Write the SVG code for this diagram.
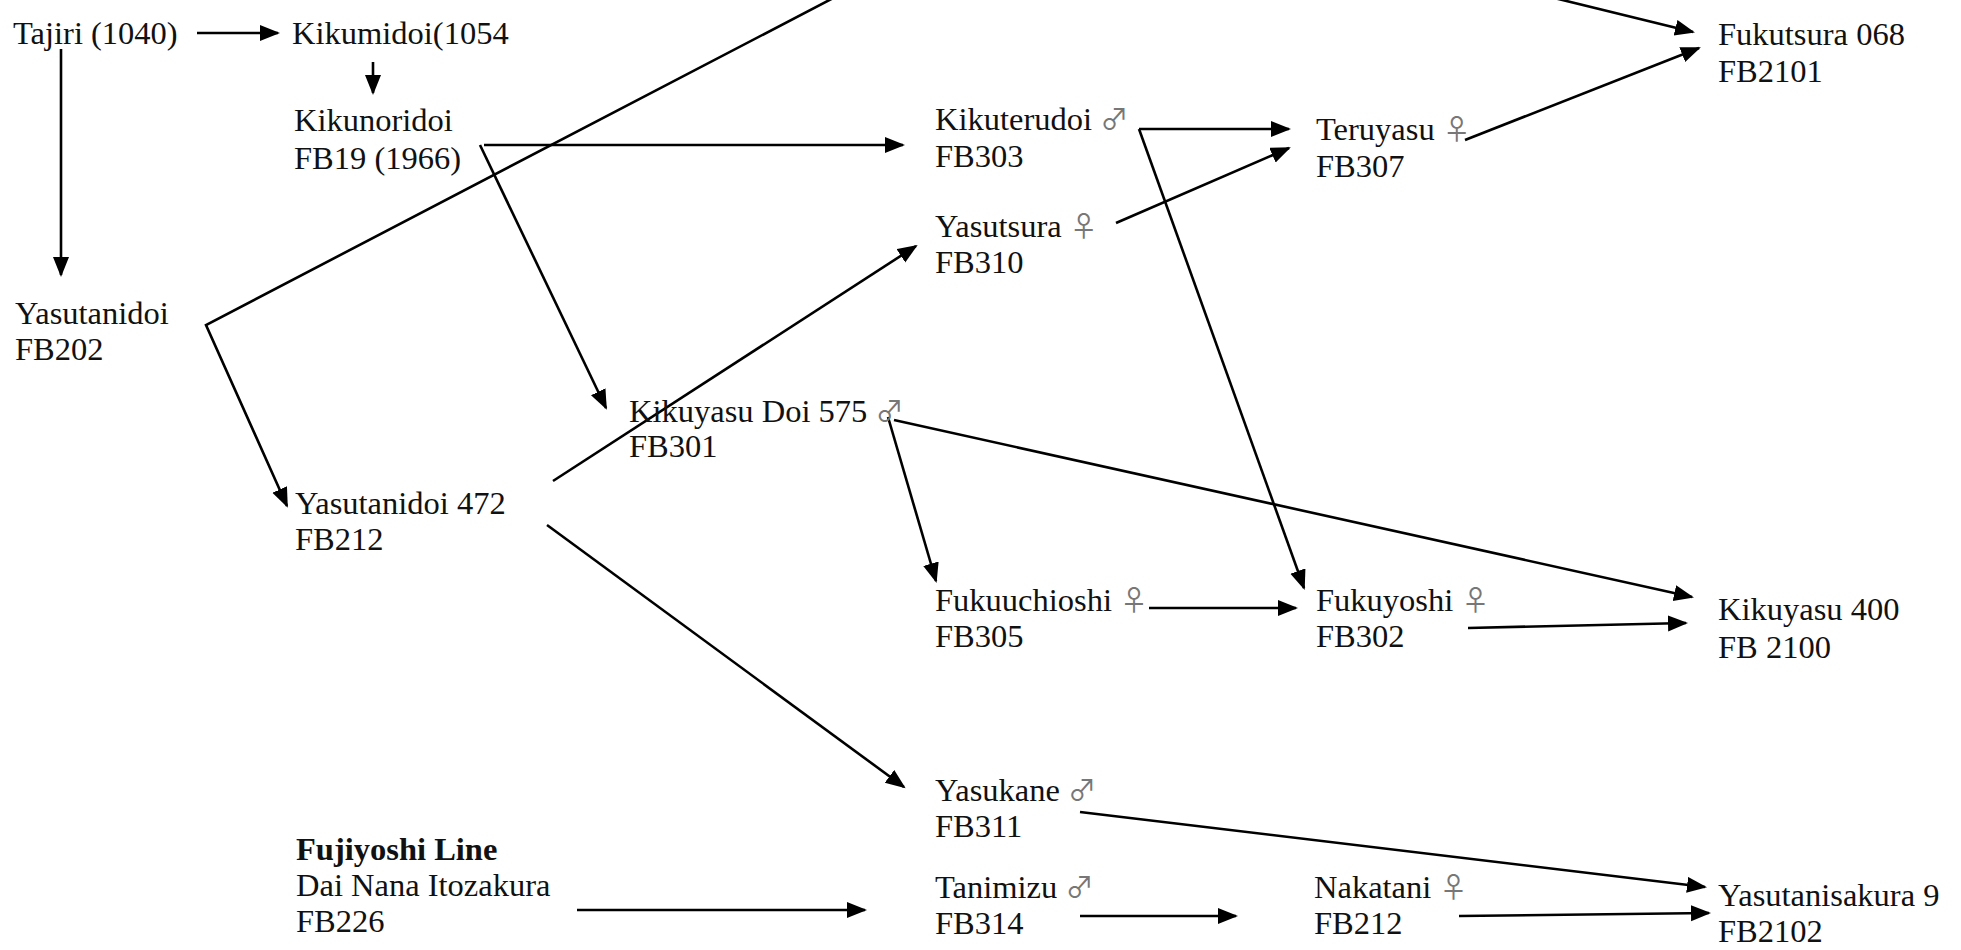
<svg xmlns="http://www.w3.org/2000/svg" width="1961" height="950" viewBox="0 0 1961 950">
<style>
text{font-family:"Liberation Serif","Times New Roman",serif;font-size:32.5px;fill:#111}
.b{font-weight:bold}
.sym{fill:#777;font-family:"Noto Sans CJK JP","DejaVu Sans",sans-serif;font-size:28px}
.c line,.c polyline{stroke:#000;stroke-width:2.6;fill:none;marker-end:url(#ah)}
</style>
<defs>
<marker id="ah" markerUnits="userSpaceOnUse" markerWidth="22" markerHeight="18" refX="18" refY="8" orient="auto">
<path d="M0,0 L20,8 L0,16 z" fill="#000"/>
</marker>
</defs>
<rect width="1961" height="950" fill="#fff"/>
<g class="c" id="connectors">
<line x1="197" y1="33" x2="278" y2="33"/>
<line x1="373" y1="62" x2="373" y2="93"/>
<line x1="61" y1="49" x2="61" y2="275"/>
<polyline points="841,-6 206,325 287,506"/>
<line x1="1542" y1="-5" x2="1693" y2="32"/>
<line x1="484" y1="145" x2="903" y2="145"/>
<line x1="480" y1="145" x2="606" y2="408"/>
<line x1="1139" y1="129" x2="1289" y2="129"/>
<line x1="1139" y1="129" x2="1304" y2="588"/>
<line x1="1116" y1="223" x2="1289" y2="148"/>
<line x1="1465" y1="140" x2="1699" y2="48"/>
<line x1="553" y1="481" x2="916" y2="246"/>
<line x1="547" y1="525" x2="904" y2="787"/>
<line x1="888" y1="417" x2="936" y2="581"/>
<line x1="894" y1="420" x2="1692" y2="597"/>
<line x1="1149" y1="608" x2="1296" y2="608"/>
<line x1="1468" y1="628" x2="1686" y2="623"/>
<line x1="1080" y1="812" x2="1705" y2="887"/>
<line x1="577" y1="910" x2="865" y2="910"/>
<line x1="1080" y1="916" x2="1236" y2="916"/>
<line x1="1459" y1="916" x2="1709" y2="913"/>
</g>
<g id="n-tajiri"><text x="13" y="44">Tajiri (1040)</text></g>
<g id="n-kikumidoi"><text x="292" y="44">Kikumidoi(1054</text></g>
<g id="n-kikunoridoi"><text x="294" y="131">Kikunoridoi</text><text x="294" y="169">FB19 (1966)</text></g>
<g id="n-yasutanidoi"><text x="15" y="324">Yasutanidoi</text><text x="15" y="360">FB202</text></g>
<g id="n-kikuterudoi"><text x="935" y="130">Kikuterudoi <tspan class="sym">♂</tspan></text><text x="935" y="167">FB303</text></g>
<g id="n-yasutsura"><text x="935" y="237">Yasutsura <tspan class="sym">♀</tspan></text><text x="935" y="273">FB310</text></g>
<g id="n-teruyasu"><text x="1316" y="140">Teruyasu <tspan class="sym">♀</tspan></text><text x="1316" y="177">FB307</text></g>
<g id="n-fukutsura"><text x="1718" y="45">Fukutsura 068</text><text x="1718" y="82">FB2101</text></g>
<g id="n-kikuyasudoi"><text x="629" y="422">Kikuyasu Doi 575 <tspan class="sym">♂</tspan></text><text x="629" y="457">FB301</text></g>
<g id="n-yasutanidoi472"><text x="295" y="514">Yasutanidoi 472</text><text x="295" y="550">FB212</text></g>
<g id="n-fukuuchioshi"><text x="935" y="611">Fukuuchioshi <tspan class="sym">♀</tspan></text><text x="935" y="647">FB305</text></g>
<g id="n-fukuyoshi"><text x="1316" y="611">Fukuyoshi <tspan class="sym">♀</tspan></text><text x="1316" y="647">FB302</text></g>
<g id="n-kikuyasu400"><text x="1718" y="620">Kikuyasu 400</text><text x="1718" y="658">FB 2100</text></g>
<g id="n-yasukane"><text x="935" y="801">Yasukane <tspan class="sym">♂</tspan></text><text x="935" y="837">FB311</text></g>
<g id="n-fujiyoshi"><text x="296" y="860" class="b">Fujiyoshi Line</text><text x="296" y="896">Dai Nana Itozakura</text><text x="296" y="932">FB226</text></g>
<g id="n-tanimizu"><text x="935" y="898">Tanimizu <tspan class="sym">♂</tspan></text><text x="935" y="934">FB314</text></g>
<g id="n-nakatani"><text x="1314" y="898">Nakatani <tspan class="sym">♀</tspan></text><text x="1314" y="934">FB212</text></g>
<g id="n-yasutanisakura"><text x="1718" y="906">Yasutanisakura 9</text><text x="1718" y="942">FB2102</text></g>
</svg>
